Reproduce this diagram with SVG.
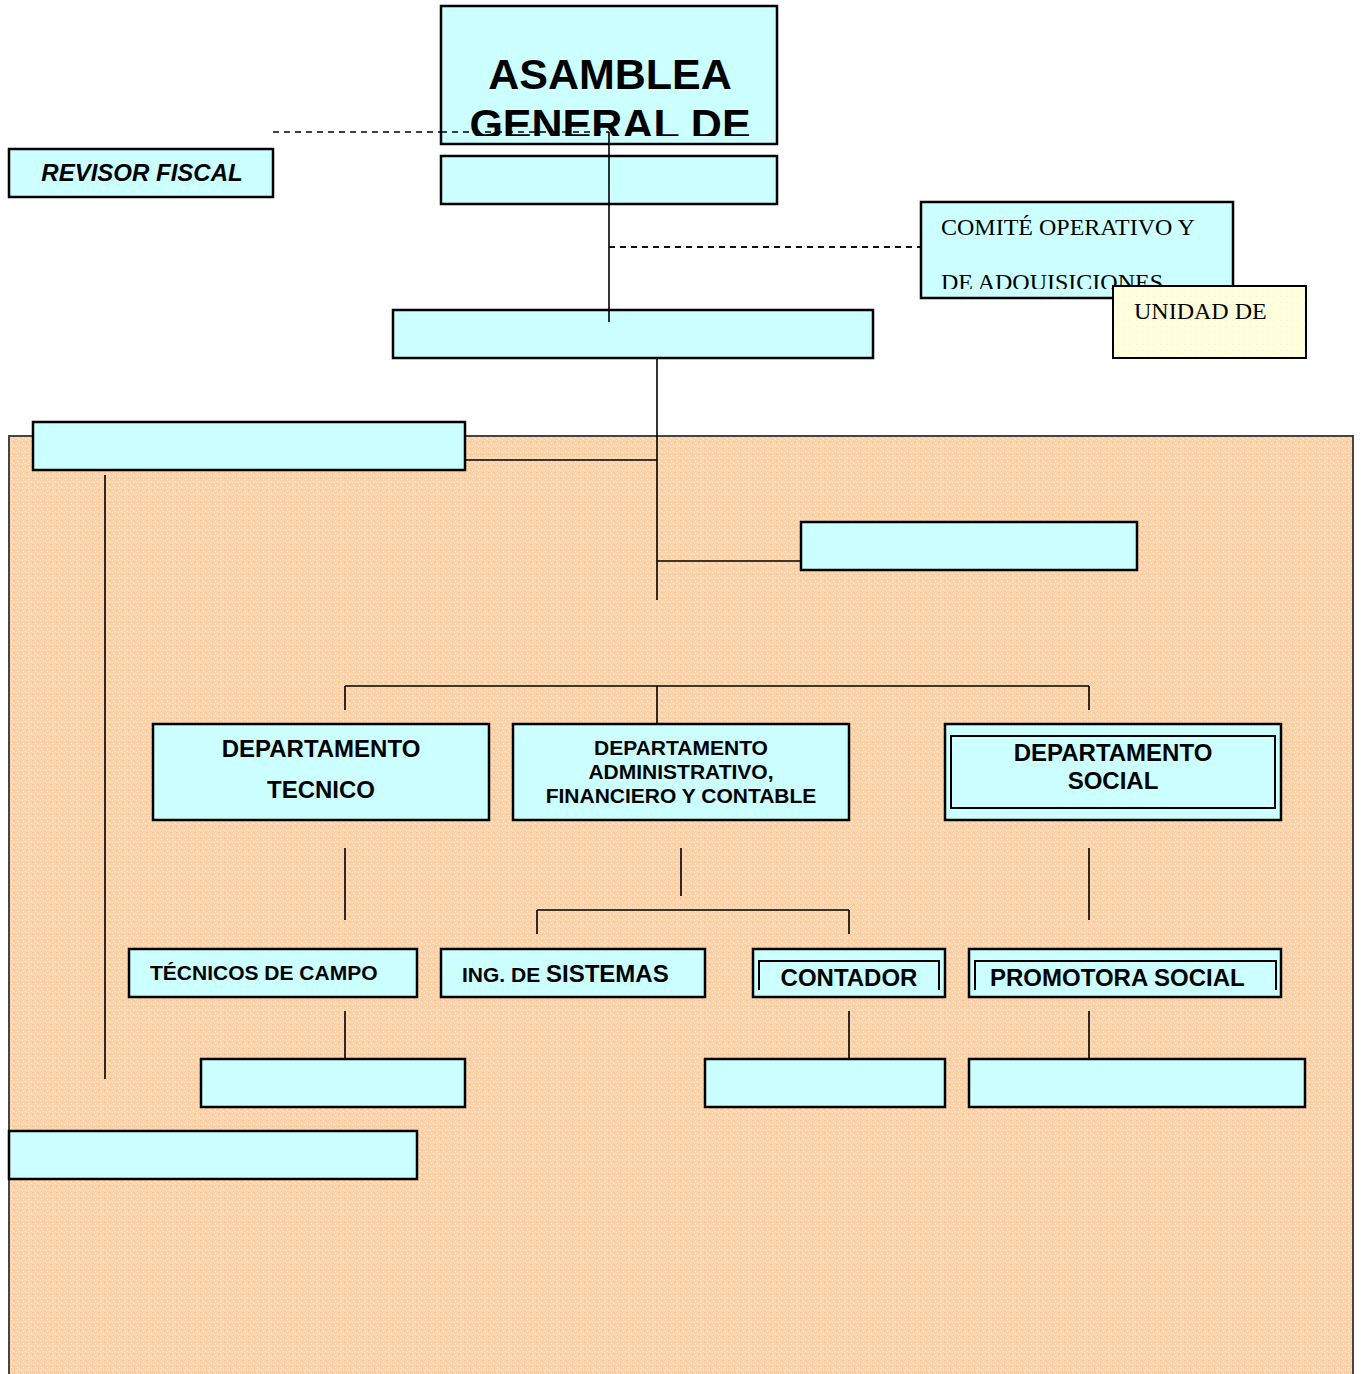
<svg xmlns="http://www.w3.org/2000/svg" width="1362" height="1374" viewBox="0 0 1362 1374">
<style>
.box{fill:#CCFFFF;stroke:#000;stroke-width:2.5}
.ln{stroke:#000;stroke-width:1.6;fill:none}
.dash{stroke:#000;stroke-width:1.5;stroke-dasharray:6 5;fill:none}
.b{font-family:"Liberation Sans",Arial,sans-serif;font-weight:bold;fill:#000}
.s{font-family:"Liberation Serif","Times New Roman",serif;fill:#000}
</style>
<defs>
<pattern id="peach" width="6" height="6" patternUnits="userSpaceOnUse">
<rect width="6" height="6" fill="#FBD3AA"/>
<rect x="1" y="1" width="1" height="1" fill="#FFF0E0"/>
<rect x="4" y="2" width="1" height="1" fill="#FFE8D2"/>
<rect x="2" y="4" width="1" height="1" fill="#F6C08C"/>
<rect x="5" y="5" width="1" height="1" fill="#FFF3E6"/>
</pattern>
<pattern id="yel" width="6" height="6" patternUnits="userSpaceOnUse">
<rect width="6" height="6" fill="#FFFFDD"/>
<rect x="2" y="2" width="1" height="1" fill="#F4F0C8"/>
</pattern>
<clipPath id="c1"><rect x="441" y="6" width="336" height="130"/></clipPath>
<clipPath id="c2"><rect x="921" y="202" width="312" height="87"/></clipPath>
</defs>
<rect x="9" y="436" width="1344" height="950" fill="url(#peach)" stroke="#333" stroke-width="1.8"/>
<g id="connectors">
<path class="dash" d="M273 132H609"/>
<path class="dash" d="M609 247H921"/>
<path class="ln" d="M609 132V322"/>
<path class="ln" d="M657 358V600"/>
<path class="ln" d="M466 460H657"/>
<path class="ln" d="M657 561H801"/>
<path class="ln" d="M105 475V1079"/>
<path class="ln" d="M345 686H1089M345 686V710M657 686V723M1089 686V710"/>
<path class="ln" d="M345 848V920M681 848V896M1089 848V920"/>
<path class="ln" d="M537 910H849M537 910V934M849 910V934"/>
<path class="ln" d="M345 1011V1058M849 1011V1058M1089 1011V1058"/>
</g>
<g id="asamblea">
<rect class="box" x="441" y="6" width="336" height="138"/>
<g clip-path="url(#c1)">
<text class="b" x="610" y="89" font-size="43" text-anchor="middle">ASAMBLEA</text>
<text class="b" x="610" y="139" font-size="43" text-anchor="middle">GENERAL DE</text>
</g>
<path class="dash" d="M441 132H609"/>
<path class="ln" d="M609 132V144"/>
</g>
<g id="asamblea2"><rect class="box" x="441" y="156" width="336" height="48"/><path class="ln" d="M609 156V204"/></g>
<g id="revisor"><rect class="box" x="9" y="149" width="264" height="48" stroke-width="2"/>
<text class="b" x="142" y="181" font-size="24" font-style="italic" text-anchor="middle">REVISOR FISCAL</text></g>
<g id="comite"><rect class="box" x="921" y="202" width="312" height="96"/>
<path class="dash" d="M609 247H921"/>
<g clip-path="url(#c2)">
<text class="s" x="941" y="235" font-size="24">COMITÉ OPERATIVO Y</text>
<text class="s" x="941" y="290" font-size="24">DE ADQUISICIONES</text>
</g></g>
<g id="unidad"><rect x="1113" y="286" width="193" height="72" fill="url(#yel)" stroke="#000" stroke-width="2"/>
<text class="s" x="1134" y="319" font-size="24">UNIDAD DE</text></g>
<g id="gerencia"><rect class="box" x="393" y="310" width="480" height="48"/><path class="ln" d="M609 310V322"/></g>
<g id="left1"><rect class="box" x="33" y="422" width="432" height="48"/></g>
<g id="right1"><rect class="box" x="801" y="522" width="336" height="48"/></g>
<g id="dtec"><rect class="box" x="153" y="724" width="336" height="96"/>
<text class="b" x="321" y="757" font-size="24" text-anchor="middle">DEPARTAMENTO</text>
<text class="b" x="321" y="798" font-size="24" text-anchor="middle">TECNICO</text></g>
<g id="dadm"><rect class="box" x="513" y="724" width="336" height="96"/>
<text class="b" x="681" y="755" font-size="21" text-anchor="middle">DEPARTAMENTO</text>
<text class="b" x="681" y="779" font-size="21" text-anchor="middle">ADMINISTRATIVO,</text>
<text class="b" x="681" y="803" font-size="21" text-anchor="middle">FINANCIERO Y CONTABLE</text></g>
<g id="dsoc"><rect class="box" x="945" y="724" width="336" height="96"/>
<rect x="951" y="736" width="324" height="72" fill="none" stroke="#000" stroke-width="2"/>
<text class="b" x="1113" y="761" font-size="24" text-anchor="middle">DEPARTAMENTO</text>
<text class="b" x="1113" y="789" font-size="24" text-anchor="middle">SOCIAL</text></g>
<g id="tecnicos"><rect class="box" x="129" y="949" width="288" height="48"/>
<text class="b" x="150" y="980" font-size="21">TÉCNICOS DE CAMPO</text></g>
<g id="ing"><rect class="box" x="441" y="949" width="264" height="48"/>
<text class="b" x="462" y="982" font-size="21">ING. DE <tspan font-size="24">SISTEMAS</tspan></text></g>
<g id="contador"><rect class="box" x="753" y="949" width="192" height="48"/>
<path d="M759 990V961H939V990" fill="none" stroke="#000" stroke-width="2"/>
<text class="b" x="849" y="986" font-size="24" text-anchor="middle">CONTADOR</text></g>
<g id="promotora"><rect class="box" x="969" y="949" width="312" height="48"/>
<path d="M975 990V961H1276V990" fill="none" stroke="#000" stroke-width="2"/>
<text class="b" x="990" y="986" font-size="24">PROMOTORA SOCIAL</text></g>
<g id="b1"><rect class="box" x="201" y="1059" width="264" height="48"/></g>
<g id="b2"><rect class="box" x="705" y="1059" width="240" height="48"/></g>
<g id="b3"><rect class="box" x="969" y="1059" width="336" height="48"/></g>
<g id="b4"><rect class="box" x="9" y="1131" width="408" height="48"/></g>
</svg>
